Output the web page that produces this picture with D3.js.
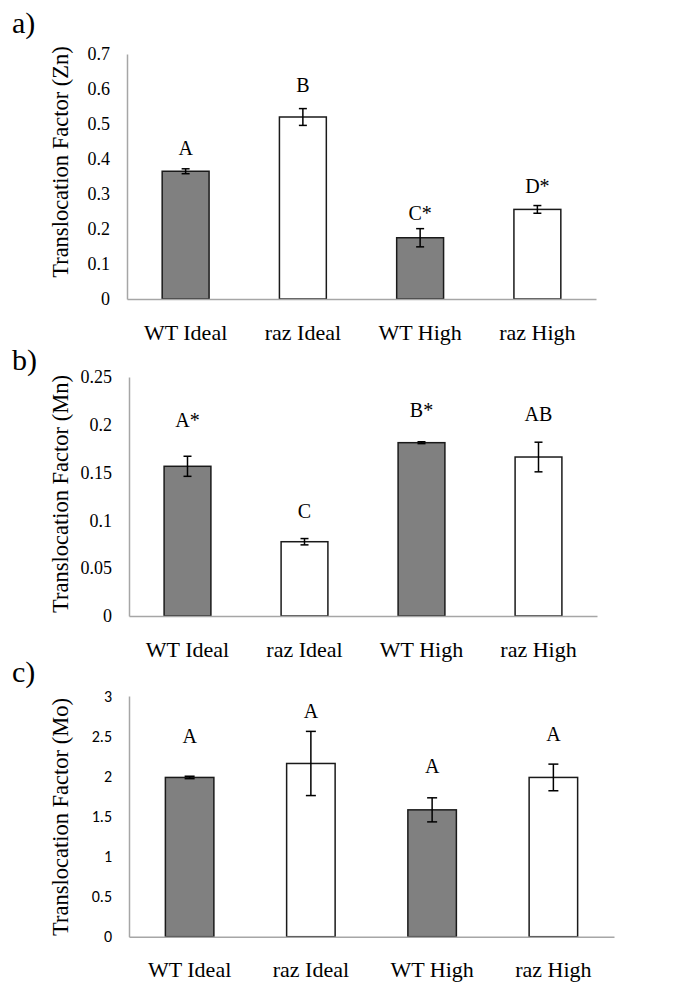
<!DOCTYPE html>
<html><head><meta charset="utf-8">
<script src="https://cdn.jsdelivr.net/npm/d3@7"></script>
<style>body{margin:0;background:#fff}svg{display:block}</style>
</head><body>
<script>
const categories = ["WT Ideal", "raz Ideal", "WT High", "raz High"];
const genotype = ["WT", "raz", "WT", "raz"];

const znMean = [0.365, 0.52, 0.175, 0.256];
const znErr = [0.007, 0.024, 0.026, 0.011];
const znLetters = ["A", "B", "C*", "D*"];
const znLetterAt = [0.411, 0.591, 0.226, 0.303];
const znTicks = [0, 0.1, 0.2, 0.3, 0.4, 0.5, 0.6, 0.7];

const mnMean = [0.1566, 0.0777, 0.1813, 0.1663];
const mnErr = [0.0105, 0.0033, 0.001, 0.0155];
const mnLetters = ["A*", "C", "B*", "AB"];
const mnLetterAt = [0.198, 0.1025, 0.208, 0.204];
const mnTicks = [0, 0.05, 0.1, 0.15, 0.2, 0.25];

const moMean = [1.985, 2.159, 1.581, 1.985];
const moErr = [0.015, 0.40, 0.15, 0.166];
const moLetters = ["A", "A", "A", "A"];
const moLetterAt = [2.42, 2.73, 2.04, 2.44];
const moTicks = [0, 0.5, 1, 1.5, 2, 2.5, 3];

const W = 685, H = 997;
const svg = d3.select("body").append("svg").attr("width", W).attr("height", H);
const serif = "'Liberation Serif', 'Times New Roman', serif";
const sans = "Carlito, Lato, sans-serif";

const fills = {WT: "#808080", raz: "#ffffff"};

function panel(opt) {
  const g = svg.append("g");
  const x = d3.scaleBand().domain(categories).range([opt.x0, opt.x1]).paddingInner(0.6).paddingOuter(0.3);
  const y = d3.scaleLinear().domain([0, opt.ticks[opt.ticks.length - 1]]).range([opt.y0, opt.yTop]);

  const yAx = g.append("g").attr("transform", `translate(${opt.x0},0)`)
    .call(d3.axisLeft(y).tickValues(opt.ticks).tickSize(0).tickSizeOuter(0).tickPadding(17).tickFormat(d => String(d)));
  yAx.select(".domain").attr("stroke", "#a6a6a6").attr("stroke-width", 1.5);
  yAx.selectAll("text").style("font-family", opt.tickFont).style("font-size", opt.tickSize + "px").attr("fill", "#000");

  const data = categories.map((c, i) => ({c, v: opt.mean[i], e: opt.err[i], l: opt.letters[i], la: opt.letterAt[i], g: genotype[i]}));

  g.selectAll("rect.bar").data(data).enter().append("rect")
    .attr("x", d => x(d.c)).attr("width", x.bandwidth())
    .attr("y", d => y(d.v)).attr("height", d => y(0) - y(d.v))
    .attr("fill", d => fills[d.g]).attr("stroke", "#1a1a1a").attr("stroke-width", 1.5);

  const xAx = g.append("g").attr("transform", `translate(0,${opt.y0})`)
    .call(d3.axisBottom(x).tickSize(0).tickSizeOuter(0).tickPadding(25));
  xAx.select(".domain").attr("stroke", "#a6a6a6").attr("stroke-width", 1.5);
  xAx.selectAll("text").style("font-family", serif).style("font-size", "22px").attr("fill", "#000");

  const cap = opt.cap;
  const eb = g.selectAll("g.eb").data(data).enter().append("g")
    .attr("stroke", "#000").attr("stroke-width", 1.5);
  eb.append("line").attr("x1", d => x(d.c) + x.bandwidth() / 2).attr("x2", d => x(d.c) + x.bandwidth() / 2)
    .attr("y1", d => y(d.v + d.e)).attr("y2", d => y(d.v - d.e));
  eb.append("line").attr("x1", d => x(d.c) + x.bandwidth() / 2 - cap).attr("x2", d => x(d.c) + x.bandwidth() / 2 + cap)
    .attr("y1", d => y(d.v + d.e)).attr("y2", d => y(d.v + d.e));
  eb.append("line").attr("x1", d => x(d.c) + x.bandwidth() / 2 - cap).attr("x2", d => x(d.c) + x.bandwidth() / 2 + cap)
    .attr("y1", d => y(d.v - d.e)).attr("y2", d => y(d.v - d.e));

  g.selectAll("text.letter").data(data).enter().append("text")
    .attr("x", d => x(d.c) + x.bandwidth() / 2).attr("y", d => y(d.la))
    .attr("text-anchor", "middle").style("font-family", serif).style("font-size", "20px").text(d => d.l);

  g.append("text").attr("transform", `translate(${opt.titleX},${opt.titleY}) rotate(-90)`)
    .attr("text-anchor", "middle").attr("dy", "0.35em").style("font-family", serif).style("font-size", "22.5px")
    .text(opt.title);

  g.append("text").attr("x", 12).attr("y", opt.tagY).style("font-family", serif).style("font-size", "30px").text(opt.tag);
}

panel({x0: 127, x1: 596, y0: 299, yTop: 54, ticks: znTicks, mean: znMean, err: znErr, letters: znLetters, letterAt: znLetterAt,
  tickFont: serif, tickSize: 18, cap: 4, title: "Translocation Factor (Zn)", titleX: 60, titleY: 162, tag: "a)", tagY: 33});
panel({x0: 129, x1: 597, y0: 616, yTop: 377, ticks: mnTicks, mean: mnMean, err: mnErr, letters: mnLetters, letterAt: mnLetterAt,
  tickFont: serif, tickSize: 18, cap: 4, title: "Translocation Factor (Mn)", titleX: 60, titleY: 494, tag: "b)", tagY: 370});
panel({x0: 129, x1: 614, y0: 936.7, yTop: 696, ticks: moTicks, mean: moMean, err: moErr, letters: moLetters, letterAt: moLetterAt,
  tickFont: sans, tickSize: 16, cap: 5, title: "Translocation Factor (Mo)", titleX: 60, titleY: 817, tag: "c)", tagY: 682});
</script>
</body></html>
